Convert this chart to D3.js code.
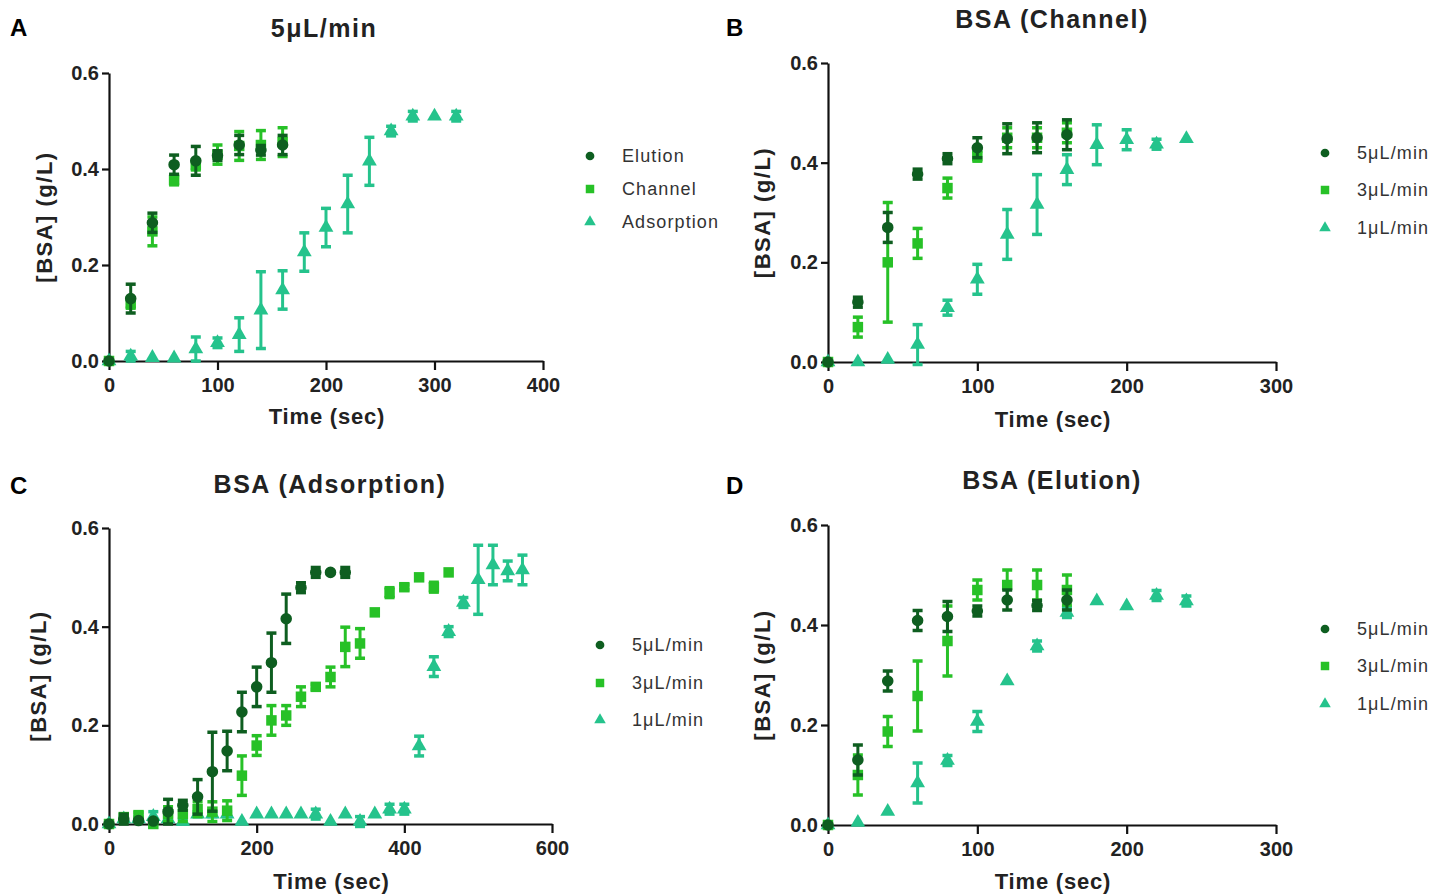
<!DOCTYPE html>
<html>
<head>
<meta charset="utf-8">
<script src="https://cdn.jsdelivr.net/npm/d3@7"></script>
<style>
  html, body { margin: 0; padding: 0; background: #fff; }
  svg { display: block; }
  text { font-family: "Liberation Sans", Arial, sans-serif; }
</style>
</head>
<body>
<svg id="chart" width="1447" height="895"></svg>
<script>
// ---- Measured BSA concentration (g/L), mean and error, by location and flow rate ----

// Elution, 5 µL/min
const elution5Time = [0, 20, 40, 60, 80, 100, 120, 140, 160];
const elution5Mean = [0, 0.13, 0.288, 0.409, 0.417, 0.428, 0.45, 0.439, 0.45];
const elution5Err  = [0, 0.03, 0.02, 0.02, 0.03, 0.01, 0.02, 0.01, 0.02];

// Channel, 5 µL/min
const channel5Time = [0, 20, 40, 60, 80, 100, 120, 140, 160];
const channel5Mean = [0, 0.12, 0.27, 0.377, 0.408, 0.43, 0.448, 0.45, 0.456];
const channel5Err  = [0, 0.01, 0.03, 0.01, 0.01, 0.02, 0.03, 0.03, 0.03];

// Adsorption, 5 µL/min
const adsorption5Time = [0, 20, 40, 60, 80, 100, 120, 140, 160, 180, 200, 220, 240, 260, 280, 300, 320];
const adsorption5Mean = [0, 0.01, 0.007, 0.006, 0.025, 0.038, 0.055, 0.106, 0.148, 0.227, 0.278, 0.327, 0.416, 0.479, 0.51, 0.51, 0.51];
const adsorption5Err  = [0, 0.01, 0, 0, 0.025, 0.01, 0.035, 0.08, 0.04, 0.04, 0.04, 0.06, 0.05, 0.01, 0.01, 0, 0.01];

// Channel, 3 µL/min
const channel3Time = [0, 20, 40, 60, 80, 100, 120, 140, 160];
const channel3Mean = [0, 0.07, 0.2, 0.238, 0.349, 0.413, 0.45, 0.45, 0.46];
const channel3Err  = [0, 0.02, 0.12, 0.03, 0.02, 0.01, 0.02, 0.02, 0.02];

// Channel, 1 µL/min
const channel1Time = [0, 20, 40, 60, 80, 100, 120, 140, 160, 180, 200, 220, 240];
const channel1Mean = [0, 0, 0.005, 0.035, 0.109, 0.166, 0.256, 0.316, 0.386, 0.436, 0.446, 0.437, 0.448];
const channel1Err  = [0, 0, 0, 0.04, 0.015, 0.03, 0.05, 0.06, 0.03, 0.04, 0.02, 0.01, 0];

// Adsorption, 3 µL/min
const adsorption3Time = [0, 20, 40, 60, 80, 100, 120, 140, 160, 180, 200, 220, 240, 260, 280, 300, 320, 340, 360, 380, 400, 420, 440, 460];
const adsorption3Mean = [0, 0.014, 0.018, 0, 0.02, 0.02, 0.03, 0.025, 0.027, 0.098, 0.159, 0.21, 0.22, 0.258, 0.278, 0.298, 0.359, 0.366, 0.429, 0.469, 0.48, 0.5, 0.48, 0.51];
const adsorption3Err  = [0, 0.005, 0.005, 0, 0.015, 0.015, 0.015, 0.02, 0.02, 0.04, 0.02, 0.03, 0.02, 0.02, 0.005, 0.02, 0.04, 0.03, 0, 0.01, 0.005, 0, 0.01, 0];

// Adsorption, 1 µL/min
const adsorption1Time = [0, 20, 40, 60, 80, 100, 120, 140, 160, 180, 200, 220, 240, 260, 280, 300, 320, 340, 360, 380, 400, 420, 440, 460, 480, 500, 520, 540, 560];
const adsorption1Mean = [0, 0.01, 0.01, 0.015, 0.01, 0.005, 0.02, 0.02, 0.02, 0.005, 0.02, 0.02, 0.02, 0.02, 0.02, 0.005, 0.02, 0.005, 0.02, 0.03, 0.03, 0.158, 0.319, 0.39, 0.449, 0.495, 0.525, 0.513, 0.515];
const adsorption1Err  = [0, 0.005, 0.005, 0.01, 0.005, 0.005, 0.005, 0.005, 0.005, 0, 0, 0, 0, 0, 0.01, 0, 0, 0.01, 0, 0.01, 0.01, 0.02, 0.02, 0.01, 0.01, 0.07, 0.04, 0.02, 0.03];

// Elution, 3 µL/min
const elution3Time = [0, 20, 40, 60, 80, 100, 120, 140, 160];
const elution3Mean = [0, 0.1, 0.187, 0.258, 0.368, 0.47, 0.48, 0.48, 0.47];
const elution3Err  = [0, 0.04, 0.03, 0.07, 0.07, 0.02, 0.03, 0.03, 0.03];

// Elution, 1 µL/min
const elution1Time = [0, 20, 40, 60, 80, 100, 120, 140, 160, 180, 200, 220, 240];
const elution1Mean = [0, 0.005, 0.027, 0.084, 0.129, 0.207, 0.288, 0.358, 0.425, 0.448, 0.438, 0.459, 0.448];
const elution1Err  = [0, 0, 0, 0.04, 0.01, 0.02, 0, 0.01, 0.01, 0, 0, 0.01, 0.01];

// Axis ticks
const yTickValues = [0, 0.2, 0.4, 0.6];
const xTicks300 = [0, 100, 200, 300];
const xTicks400 = [0, 100, 200, 300, 400];
const xTicks600 = [0, 200, 400, 600];

// Legend labels
const locationLabels = ["Elution", "Channel", "Adsorption"];
const flowLabels = ["5\u03bcL/min", "3\u03bcL/min", "1\u03bcL/min"];

// ---- Styling ----
const colDark = "#0e5e20";
const colBright = "#27c127";
const colTeal = "#25c38c";

const styles = [
  { color: colDark, type: d3.symbolCircle, size: 105, legendSize: 60 },
  { color: colBright, type: d3.symbolSquare, size: 110, legendSize: 72 },
  { color: colTeal, type: d3.symbolTriangle, size: 95, legendSize: 58 }
];

function zipSeries(time, mean, err) {
  return time.map((t, i) => ({ t, m: mean[i], e: err[i] }));
}

const panels = [
  {
    letter: "A", letterPos: [10, 36],
    title: "5\u03bcL/min", titlePos: [324, 37],
    xr: [109, 543], yr: [361, 73], xMax: 400, xTicks: xTicks400,
    xTitleY: 424, yTitleX: 52,
    labels: locationLabels,
    series: [
      zipSeries(elution5Time, elution5Mean, elution5Err),
      zipSeries(channel5Time, channel5Mean, channel5Err),
      zipSeries(adsorption5Time, adsorption5Mean, adsorption5Err)
    ],
    legend: { x: 590, ys: [156, 189, 222] }
  },
  {
    letter: "B", letterPos: [726, 36],
    title: "BSA (Channel)", titlePos: [1052, 28],
    xr: [828, 1276], yr: [362, 63], xMax: 300, xTicks: xTicks300,
    xTitleY: 427, yTitleX: 770,
    labels: flowLabels,
    series: [
      zipSeries(channel5Time, channel5Mean, channel5Err),
      zipSeries(channel3Time, channel3Mean, channel3Err),
      zipSeries(channel1Time, channel1Mean, channel1Err)
    ],
    legend: { x: 1325, ys: [153, 190, 228] }
  },
  {
    letter: "C", letterPos: [10, 494],
    title: "BSA (Adsorption)", titlePos: [330, 493],
    xr: [109, 552], yr: [824, 528], xMax: 600, xTicks: xTicks600,
    xTitleY: 889, yTitleX: 46,
    labels: flowLabels,
    series: [
      zipSeries(adsorption5Time, adsorption5Mean, adsorption5Err),
      zipSeries(adsorption3Time, adsorption3Mean, adsorption3Err),
      zipSeries(adsorption1Time, adsorption1Mean, adsorption1Err)
    ],
    legend: { x: 600, ys: [645, 683, 720] }
  },
  {
    letter: "D", letterPos: [726, 494],
    title: "BSA (Elution)", titlePos: [1052, 489],
    xr: [828, 1276], yr: [825, 525], xMax: 300, xTicks: xTicks300,
    xTitleY: 889, yTitleX: 770,
    labels: flowLabels,
    series: [
      zipSeries(elution5Time, elution5Mean, elution5Err),
      zipSeries(elution3Time, elution3Mean, elution3Err),
      zipSeries(elution1Time, elution1Mean, elution1Err)
    ],
    legend: { x: 1325, ys: [629, 666, 704] }
  }
];

const svg = d3.select("#chart");

panels.forEach(p => {
  const g = svg.append("g");
  const x = d3.scaleLinear().domain([0, p.xMax]).range(p.xr);
  const y = d3.scaleLinear().domain([0, 0.6]).range(p.yr);

  // Panel letter
  g.append("text")
    .attr("x", p.letterPos[0]).attr("y", p.letterPos[1])
    .attr("font-family", "Lato, 'Liberation Sans', sans-serif")
    .attr("font-weight", "bold").attr("font-size", 24).attr("fill", "#000")
    .text(p.letter);

  // Title
  g.append("text")
    .attr("x", p.titlePos[0]).attr("y", p.titlePos[1])
    .attr("text-anchor", "middle")
    .attr("font-weight", "bold").attr("font-size", 25)
    .attr("letter-spacing", 1.5).attr("fill", "#222")
    .text(p.title);

  // Axes
  const xAxis = d3.axisBottom(x).tickValues(p.xTicks).tickSize(9).tickSizeOuter(0).tickPadding(8);
  const yAxis = d3.axisLeft(y).tickValues(yTickValues).tickFormat(d3.format(".1f")).tickSize(7).tickSizeOuter(0).tickPadding(3);

  const gx = g.append("g").attr("transform", `translate(0,${p.yr[0]})`).call(xAxis);
  const gy = g.append("g").attr("transform", `translate(${p.xr[0]},0)`).call(yAxis);
  [gx, gy].forEach(ax => {
    ax.select(".domain").attr("stroke", "#111").attr("stroke-width", 2.2);
    ax.selectAll(".tick line").attr("stroke", "#111").attr("stroke-width", 2.2);
    ax.selectAll(".tick text")
      .attr("font-family", "'Liberation Sans', Arial, sans-serif")
      .attr("font-weight", "bold").attr("font-size", 20).attr("fill", "#222");
  });

  // Axis titles
  g.append("text")
    .attr("x", (p.xr[0] + p.xr[1]) / 2 + 1).attr("y", p.xTitleY)
    .attr("text-anchor", "middle")
    .attr("font-weight", "bold").attr("font-size", 22).attr("letter-spacing", 0.8).attr("fill", "#222")
    .text("Time (sec)");
  g.append("text")
    .attr("transform", `translate(${p.yTitleX},${(p.yr[0] + p.yr[1]) / 2}) rotate(-90)`)
    .attr("text-anchor", "middle")
    .attr("font-weight", "bold").attr("font-size", 22).attr("letter-spacing", 1.5).attr("fill", "#222")
    .text("[BSA] (g/L)");

  // Series, slowest flow first so the first series sits on top
  d3.range(p.series.length).reverse().forEach(si => {
    const st = styles[si];
    const data = p.series[si];
    const sg = g.append("g").attr("fill", st.color).attr("stroke", st.color);
    const withErr = data.filter(d => d.e > 0);
    const bars = sg.selectAll("g.err").data(withErr).join("g").attr("class", "err")
      .attr("stroke-width", 3).attr("fill", "none");
    bars.append("line")
      .attr("x1", d => x(d.t)).attr("x2", d => x(d.t))
      .attr("y1", d => y(d.m - d.e)).attr("y2", d => y(d.m + d.e));
    bars.append("line")
      .attr("x1", d => x(d.t) - 5).attr("x2", d => x(d.t) + 5)
      .attr("y1", d => y(d.m + d.e)).attr("y2", d => y(d.m + d.e))
      .attr("stroke-width", 3.5);
    bars.append("line")
      .attr("x1", d => x(d.t) - 5).attr("x2", d => x(d.t) + 5)
      .attr("y1", d => y(d.m - d.e)).attr("y2", d => y(d.m - d.e))
      .attr("stroke-width", 3.5);
    sg.selectAll("path.pt").data(data).join("path").attr("class", "pt")
      .attr("stroke", "none")
      .attr("transform", d => `translate(${x(d.t)},${y(d.m)})`)
      .attr("d", d3.symbol().type(st.type).size(st.size));
  });

  // Legend
  p.labels.forEach((lab, i) => {
    const st = styles[i];
    g.append("path")
      .attr("transform", `translate(${p.legend.x},${p.legend.ys[i]})`)
      .attr("d", d3.symbol().type(st.type).size(st.legendSize))
      .attr("fill", st.color);
    g.append("text")
      .attr("x", p.legend.x + 32).attr("y", p.legend.ys[i] + 6)
      .attr("font-size", 18).attr("letter-spacing", 1.1).attr("fill", "#333")
      .text(lab);
  });
});
</script>
</body>
</html>
